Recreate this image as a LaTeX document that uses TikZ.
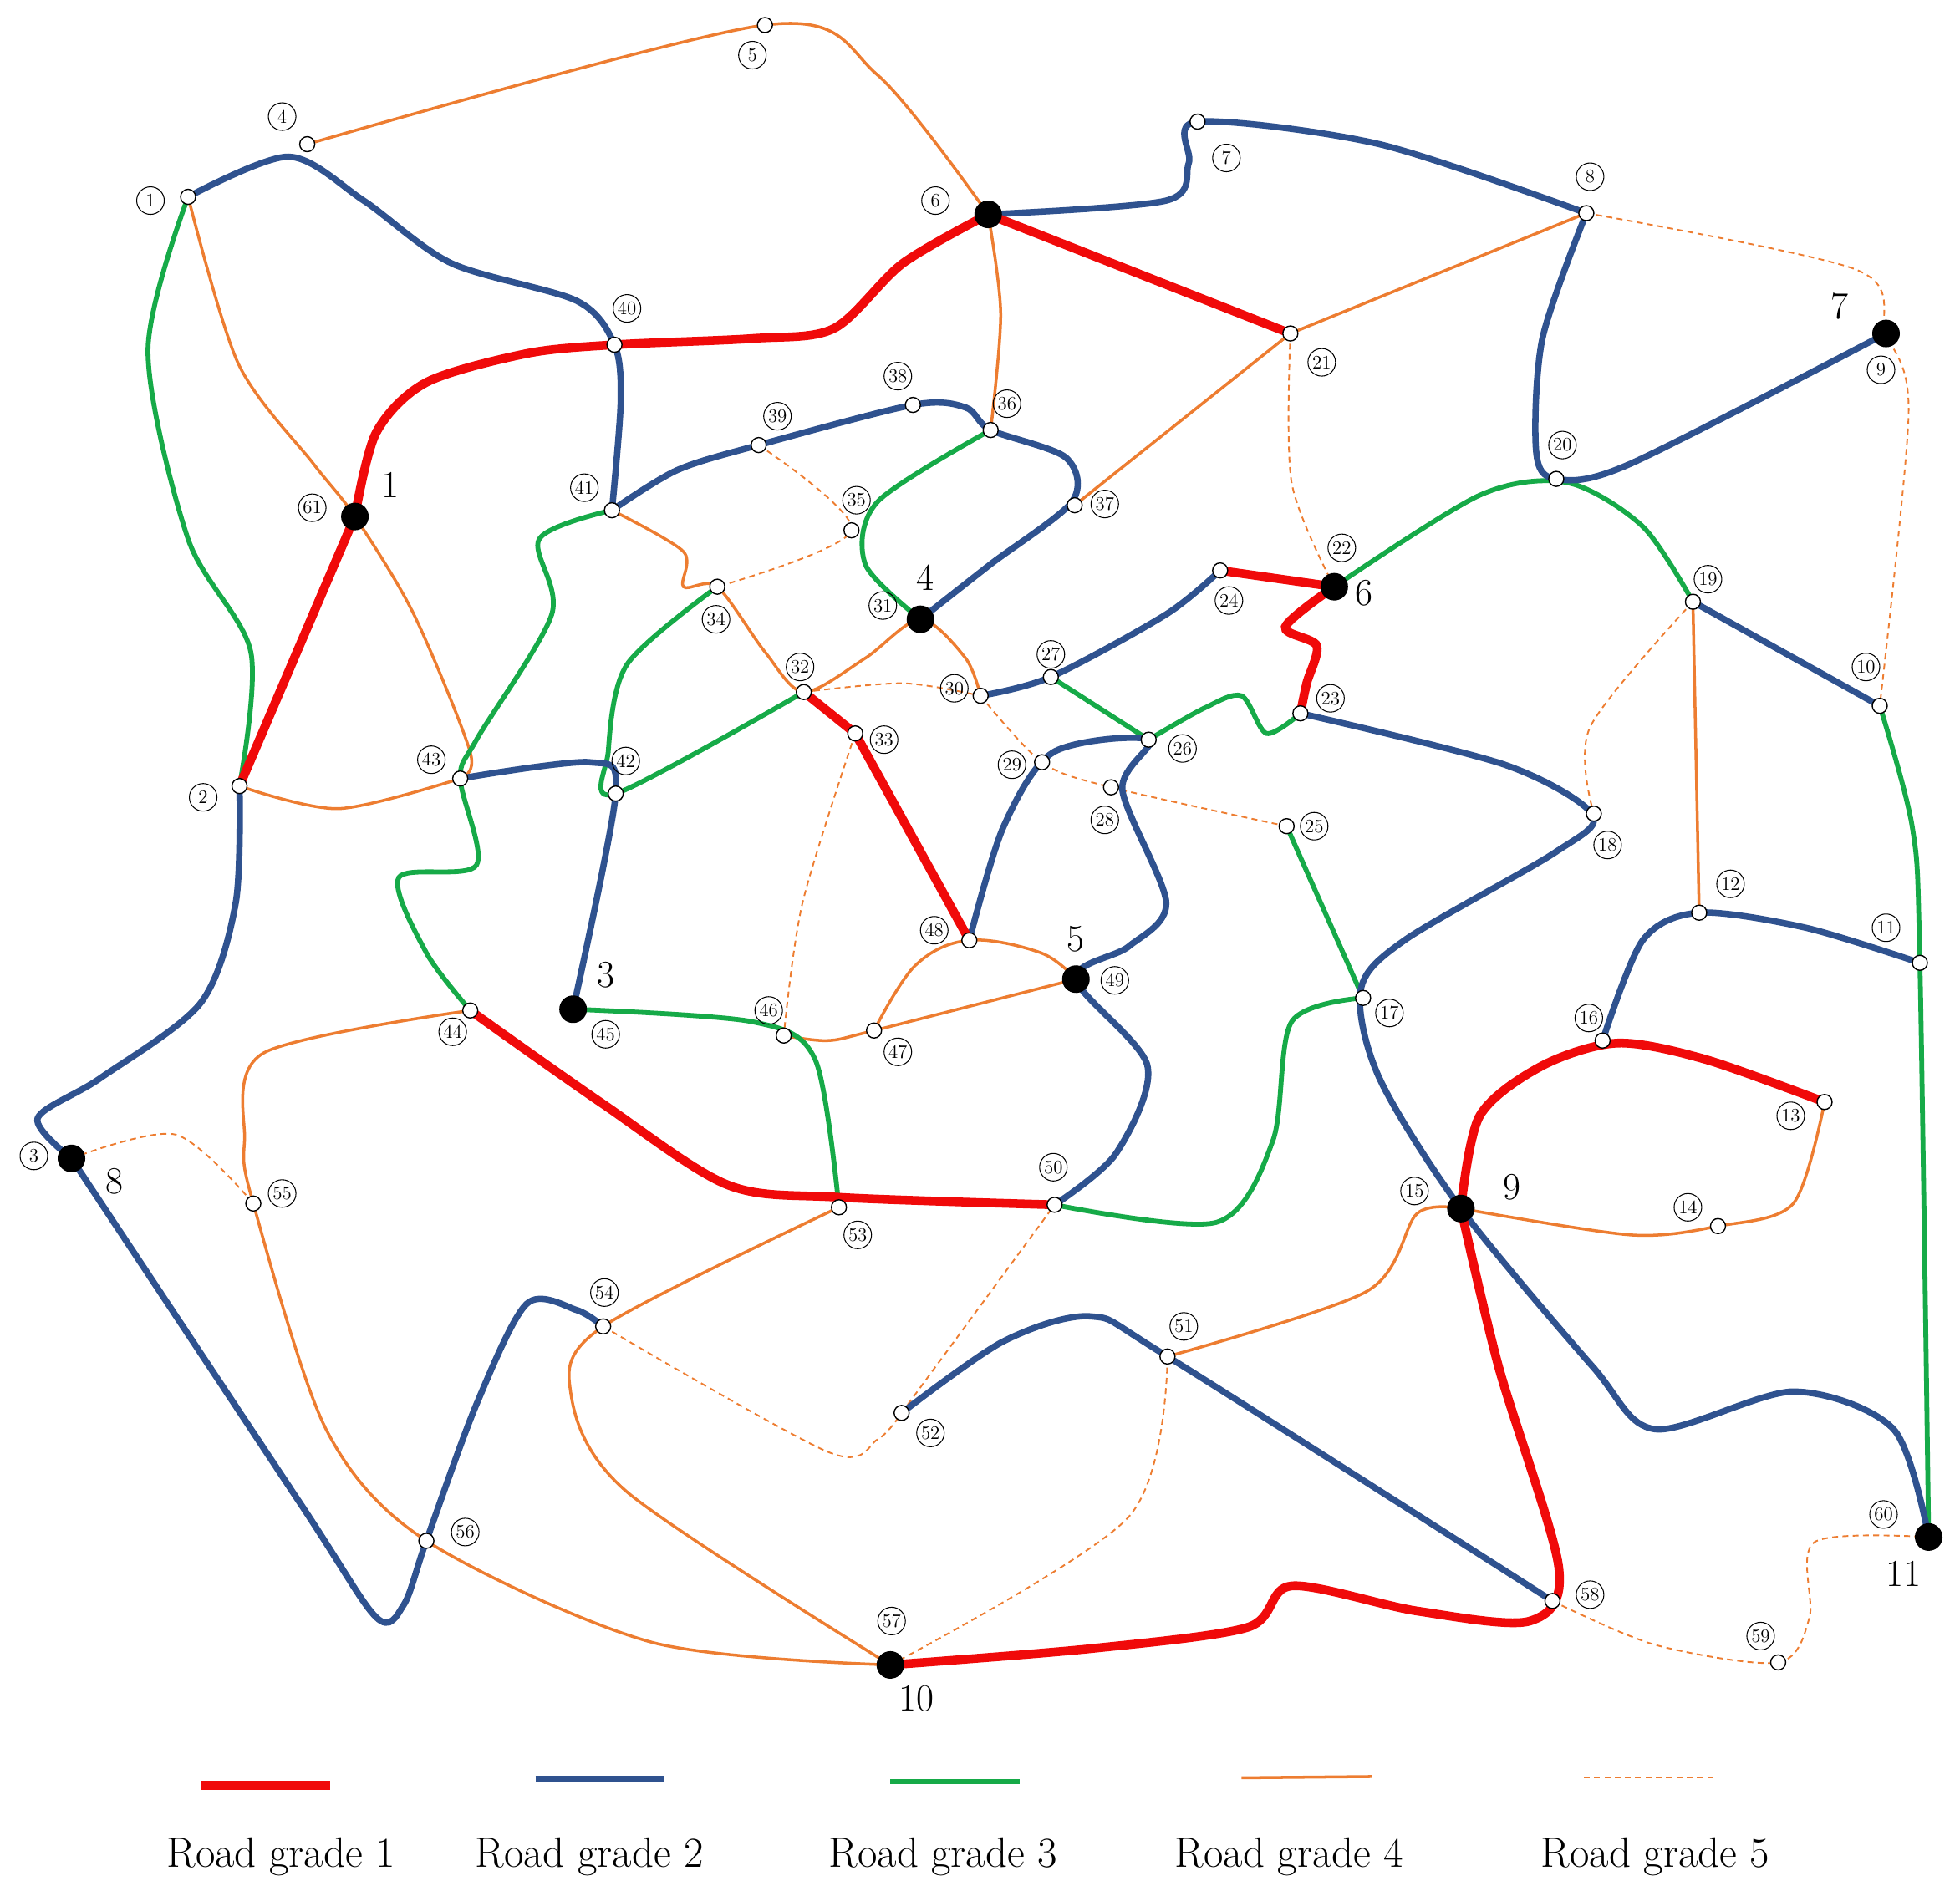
\documentclass[tikz,border=0pt]{standalone}
\begin{document}
\begin{tikzpicture}[x=0.3mm,y=-0.3mm,
 g1/.style={line width=6pt,color={rgb,255:red,240;green,10;blue,10}},
 g2/.style={line width=4.3pt,color={rgb,255:red,47;green,82;blue,143}},
 g3/.style={line width=3.3pt,color={rgb,255:red,22;green,170;blue,72}},
 g4/.style={line width=2pt,color={rgb,255:red,237;green,125;blue,49}},
 g5/.style={line width=1.1pt,dash pattern=on 4pt off 3pt,color={rgb,255:red,237;green,125;blue,49}},
 sn/.style={circle,draw,fill=white,line width=0.8pt,inner sep=0pt,minimum size=3.6mm},
 bn/.style={circle,fill=black,inner sep=0pt,minimum size=6.6mm},
 lab/.style={circle,draw,line width=0.6pt,inner sep=0.2pt,minimum size=6.6mm,font=\fontsize{13}{13}\selectfont},
 big/.style={font=\fontsize{26}{26}\selectfont},
 leg/.style={font=\fontsize{29}{30}\selectfont}]
\useasboundingbox (0,0) rectangle (1563,1508);
\foreach \n/\x/\y in {1/150/157,4/245/115,5/610/20,6/788/171,7/955/97,8/1265/170,9/1504/266,40/490/275,61/283/412,21/1029/266,38/728/323,39/605/355,36/790/343,37/857/403,41/488/407,35/679/423,20/1241/382,22/1064/468,24/973/455,34/572/468,31/734/494,19/1350/480,10/1499/563,27/838/540,32/641/552,30/782/555,23/1037/569,33/682/585,26/916/590,29/831/608,28/886/628,2/191/627,43/367/621,42/491/633,25/1026/659,18/1271/649,12/1355/728,11/1531/768,48/773/750,49/858/781,45/457/805,44/375/806,46/625/826,47/697/822,17/1087/796,16/1278/830,13/1455/879,3/57/924,55/202/960,50/841/961,53/669/963,15/1165/964,14/1370/978,54/481/1058,51/931/1082,52/719/1127,60/1538/1226,56/340/1229,58/1238/1277,57/710/1328,59/1418/1326}
  \coordinate (n\n) at (\x,\y);
% grade 5
\draw[g5] plot[smooth,tension=0.5] coordinates {(n39) (n35) (n34)};
\draw[g5] plot[smooth,tension=0.5] coordinates {(n8) (1480,215) (n9) (1522,330) (n10)};
\draw[g5] plot[smooth,tension=0.5] coordinates {(n21) (1030,385) (n22)};
\draw[g5] plot[smooth,tension=0.5] coordinates {(n19) (1268,580) (n18)};
\draw[g5] plot[smooth,tension=0.5] coordinates {(n30) (n29) (n28) (n25)};
\draw[g5] plot[smooth,tension=0.5] coordinates {(n32) (720,545) (n30)};
\draw[g5] plot[smooth,tension=0.5] coordinates {(n33) (640,720) (n46)};
\draw[g5] plot[smooth,tension=0.5] coordinates {(n3) (140,905) (n55)};
\draw[g5] plot[smooth,tension=0.5] coordinates {(n54) (660,1158) (700,1148) (n52)};
\draw[g5] (n52) -- (n50);
\draw[g5] plot[smooth,tension=0.5] coordinates {(n57) (900,1210) (n51)};
\draw[g5] plot[smooth,tension=0.5] coordinates {(n58) (1320,1312) (n59) (1443,1290) (1447,1230) (n60)};
% grade 4
\draw[g4] plot[smooth,tension=0.5] coordinates {(n4) (n5) (700,60) (n6)};
\draw[g4] plot[smooth,tension=0.5] coordinates {(n1) (190,290) (250,370) (n61) (330,490) (375,600) (n43)};
\draw[g4] plot[smooth,tension=0.5] coordinates {(n2) (270,645) (n43)};
\draw[g4] plot[smooth,tension=0.5] coordinates {(n6) (798,250) (n36)};
\draw[g4] (n8) -- (n21) -- (n37);
\draw[g4] plot[smooth,tension=0.5] coordinates {(n41) (545,440) (545,468) (n34) (610,520) (n32) (690,525) (n31) (770,525) (n30)};
\draw[g4] (n19) -- (n12);
\draw[g4] plot[smooth,tension=0.5] coordinates {(n46) (660,830) (n47) (n49)};
\draw[g4] plot[smooth,tension=0.6] coordinates {(n47) (730,770) (n48) (830,760) (n49)};
\draw[g4] plot[smooth,tension=0.5] coordinates {(n44) (210,840) (195,910) (n55) (260,1140) (n56) (520,1310) (n57)};
\draw[g4] plot[smooth,tension=0.5] coordinates {(n53) (n54) (455,1110) (500,1190) (n57)};
\draw[g4] plot[smooth,tension=0.5] coordinates {(n51) (1090,1030) (1130,968) (n15)};
\draw[g4] plot[smooth,tension=0.5] coordinates {(n15) (1300,985) (n14) (1430,960) (n13)};
% grade 3
\draw[g3] plot[smooth,tension=0.5] coordinates {(n1) (118,280) (150,430) (200,520) (n2)};
\draw[g3] plot[smooth,tension=0.5] coordinates {(n41) (430,430) (440,490) (380,590) (n43) (380,690) (318,700) (340,760) (n44)};
\draw[g3] plot[smooth,tension=0.5] coordinates {(n36) (700,400) (690,450) (n31)};
\draw[g3] plot[smooth,tension=0.5] coordinates {(n34) (500,530) (485,600) (n42) (n32)};
\draw[g3] plot[smooth,tension=0.5] coordinates {(n22) (1180,395) (1250,385) (1310,420) (n19)};
\draw[g3] (n27) -- (n26);
\draw[g3] plot[smooth,tension=0.5] coordinates {(n26) (960,565) (990,555) (1010,585) (n23)};
\draw[g3] plot[smooth,tension=0.5] coordinates {(n45) (600,815) (650,845) (n53)};
\draw[g3] (n25) -- (n17);
\draw[g3] plot[smooth,tension=0.5] coordinates {(n17) (1030,815) (1015,910) (970,975) (n50)};
\draw[g3] plot[smooth,tension=0.5] coordinates {(n10) (1525,660) (n11) (n60)};
% grade 2
\draw[g2] plot[smooth,tension=0.5] coordinates {(n1) (230,125) (290,160) (360,210) (460,240) (n40) (495,320) (n41)};
\draw[g2] plot[smooth,tension=0.5] coordinates {(n41) (540,375) (n39) (n38) (770,325) (n36) (850,365) (855,400) (790,450) (n31)};
\draw[g2] plot[smooth,tension=0.5] coordinates {(n6) (930,160) (948,130) (n7) (1100,115) (n8)};
\draw[g2] plot[smooth,tension=0.5] coordinates {(n8) (1230,270) (1225,360) (n20) (1300,370) (n9)};
\draw[g2] plot[smooth,tension=0.5] coordinates {(n30) (n27) (930,490) (n24)};
\draw[g2] (n19) -- (n10);
\draw[g2] plot[smooth,tension=0.5] coordinates {(n23) (1200,610) (1270,650) (1240,680) (1120,750) (1085,790) (1100,860) (n15) (1270,1090) (1320,1140) (1430,1110) (1510,1140) (n60)};
\draw[g2] plot[smooth,tension=0.5] coordinates {(n48) (800,660) (840,600) (n26) (895,630) (930,720) (900,755) (n49) (915,850) (890,920) (n50)};
\draw[g2] plot[smooth,tension=0.5] coordinates {(n43) (470,608) (n42) (n45)};
\draw[g2] plot[smooth,tension=0.5] coordinates {(n2) (188,720) (160,800) (80,860) (30,892) (n3)};
\draw[g2] plot[smooth,tension=0.5] coordinates {(n3) (240,1200) (300,1290) (322,1280) (n56) (380,1120) (420,1040) (460,1045) (n54)};
\draw[g2] plot[smooth,tension=0.5] coordinates {(n52) (800,1070) (870,1050) (n51) (n58)};
\draw[g2] plot[smooth,tension=0.5] coordinates {(n16) (1310,750) (n12) (1440,740) (n11)};
% grade 1
\draw[g1] (n2) -- (n61);
\draw[g1] plot[smooth,tension=0.5] coordinates {(n61) (300,345) (340,305) (420,282) (n40) (600,270) (665,262) (720,210) (n6)};
\draw[g1] (n6) -- (n21);
\draw[g1] (n24) -- (n22);
\draw[g1] plot[smooth,tension=0.5] coordinates {(n22) (1025,500) (1050,515) (1042,545) (n23)};
\draw[g1] (n32) -- (n33) -- (n48);
\draw[g1] plot[smooth,tension=0.5] coordinates {(n44) (480,880) (580,945) (669,955) (n50)};
\draw[g1] plot[smooth,tension=0.5] coordinates {(n15) (1180,890) (1230,850) (1290,832) (1360,845) (n13)};
\draw[g1] plot[smooth,tension=0.5] coordinates {(n15) (1195,1090) (1243,1250) (1220,1293) (1130,1285) (1030,1265) (995,1298) (870,1315) (n57)};
% nodes
\foreach \n in {1,4,5,7,8,40,21,38,39,36,37,41,35,20,24,34,19,10,27,32,30,23,33,26,29,28,2,43,42,25,18,12,11,48,44,46,47,17,16,13,55,50,53,14,54,51,52,56,58,59}
  \node[sn] (c\n) at (n\n) {};
\foreach \n in {6,9,61,22,31,49,45,3,15,60,57}
  \node[bn] (c\n) at (n\n) {};
\foreach \n/\x/\y in {1/120/160,4/225/93,5/600/44,6/746/160,7/978/126,8/1268/141,9/1500/295,40/500/246,61/249/405,21/1054/289,38/716/300,39/620/332,36/803/322,37/881/402,41/466/389,35/683/399,20/1246/355,22/1070/437,24/980/479,34/571/494,31/704/483,19/1362/462,10/1488/532,27/838/522,32/638/532,30/761/549,23/1061/557,33/705/590,26/943/597,29/807/610,28/881/654,2/162/636,43/344/606,42/499/607,25/1048/659,18/1282/674,12/1380/705,11/1504/740,48/745/742,49/889/782,45/483/825,44/361/823,46/613/806,47/716/839,17/1108/808,16/1267/812,13/1428/890,3/27/922,55/225/952,50/840/931,53/684/985,15/1128/950,14/1346/963,54/482/1031,51/944/1058,52/742/1143,60/1502/1208,56/371/1222,58/1268/1272,57/711/1293,59/1404/1305}
  \node[lab] (l\n) at (\x,\y) {\n};
\foreach \n/\t/\x/\y in {1/1/311/387,3/3/483/778,4/4/738/461,5/5/858/749,6/6/1088/473,7/7/1467/244,8/8/91/942,9/9/1206/947,10/10/731/1355,11/11/1518/1255}
  \node[big] (b\n) at (\x,\y) {\t};
% legend
\coordinate (a1) at (160,1424); \coordinate (a2) at (263,1424);
\coordinate (a3) at (427,1419); \coordinate (a4) at (530,1419);
\coordinate (a5) at (710,1421); \coordinate (a6) at (813,1421);
\coordinate (a7) at (990,1418); \coordinate (a8) at (1094,1417);
\coordinate (a9) at (1263,1418); \coordinate (a10) at (1367,1418);
\draw[g1] (a1) -- (a2); \draw[g2] (a3) -- (a4); \draw[g3] (a5) -- (a6);
\draw[g4] (a7) -- (a8); \draw[g5] (a9) -- (a10);
\node[leg] (t1) at (224,1481) {Road grade 1};
\node[leg] (t2) at (470,1481) {Road grade 2};
\node[leg] (t3) at (752,1481) {Road grade 3};
\node[leg] (t4) at (1028,1481) {Road grade 4};
\node[leg] (t5) at (1320,1481) {Road grade 5};
\end{tikzpicture}
\end{document}
